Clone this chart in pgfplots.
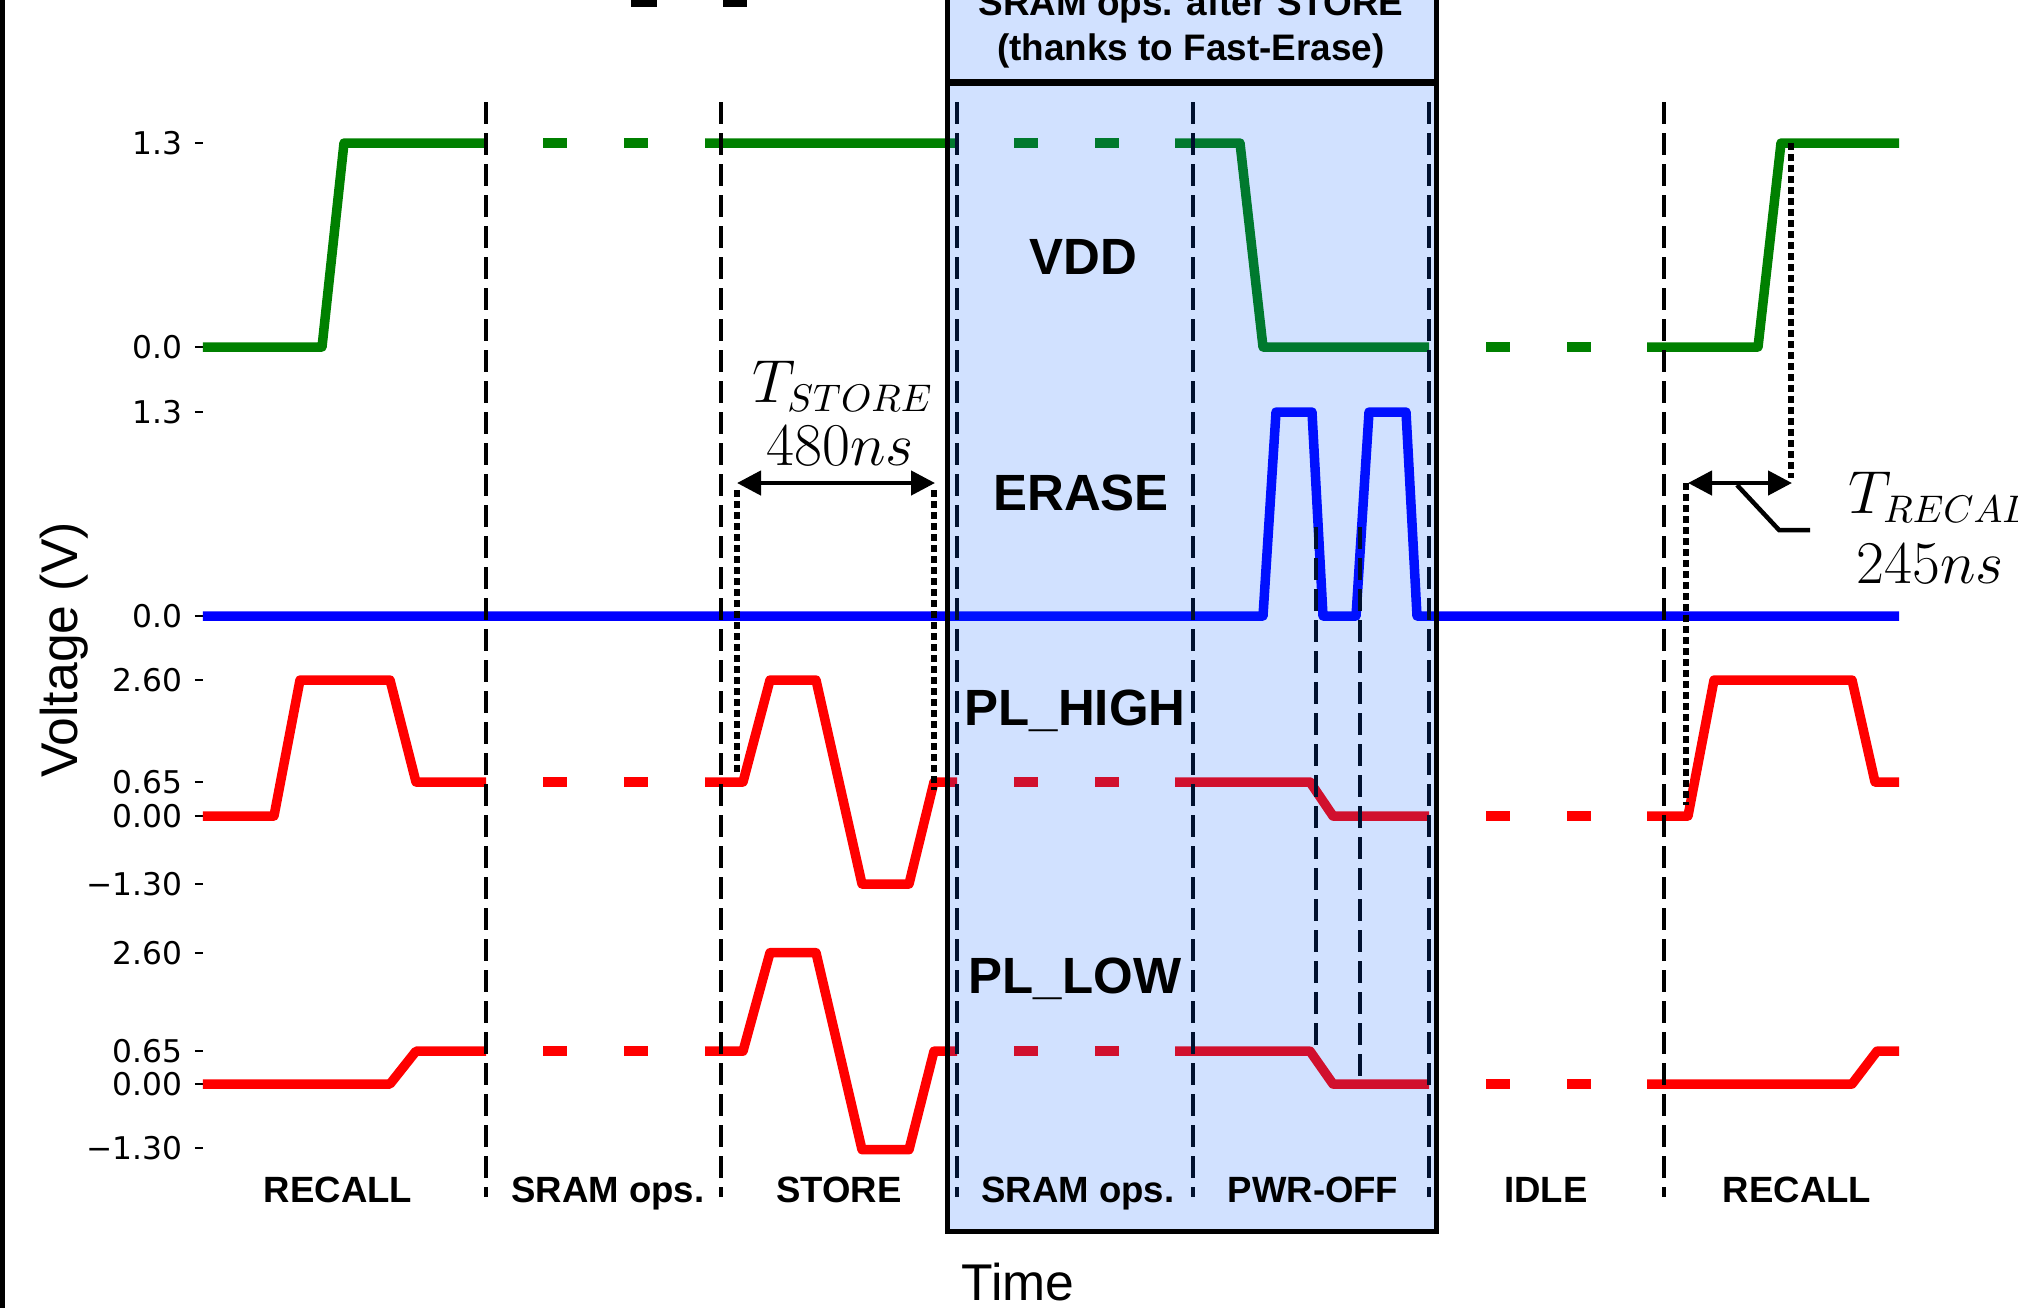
\documentclass[border=0pt]{standalone}
\usepackage{fontspec}
\setmainfont{Liberation Sans}
\newfontfamily\dejavu{DejaVu Sans}
\usepackage{pgfplots}
\pgfplotsset{compat=1.18}
\usepackage{pgfplotstable}
\usetikzlibrary{arrows.meta}

\definecolor{vddgreen}{RGB}{0,128,0}
\definecolor{plred}{RGB}{255,0,0}
\definecolor{erblue}{RGB}{0,0,255}
\definecolor{boxblue}{RGB}{0,90,255}

\tikzset{
  trace/.style={line width=0.95mm, line join=round, mark=none},
  gap/.style={line width=0.95mm, mark=none, dash pattern=on 2.4mm off 5.7mm, dash phase=2.4mm},
  vsep/.style={line width=0.35mm, black, dash pattern=on 2.2mm off 0.9mm},
  dots/.style={line width=0.65mm, black, dash pattern=on 0.65mm off 0.45mm},
  dim/.style={line width=0.45mm, black, {Triangle[length=2.4mm,width=2.4mm]}-{Triangle[length=2.4mm,width=2.4mm]}},
  big/.style={font=\bfseries\fontsize{14.5}{16}\selectfont, anchor=base},
  phase/.style={font=\bfseries\fontsize{10.4}{12}\selectfont, anchor=base},
}

% time in arbitrary units, v in volts; nan rows break a trace
\pgfplotstableread{
t v
203 0
322 0
344 1.3
486 1.3
nan 0
705 1.3
957 1.3
nan 0
1175 1.3
1240 1.3
1263 0
1429 0
nan 0
1647 0
1758 0
1781 1.3
1899 1.3
}\vddsolid

\pgfplotstableread{
t v
486 1.3
705 1.3
nan 0
957 1.3
1175 1.3
nan 0
1429 0
1647 0
}\vddgap

\pgfplotstableread{
t v
203 0
1263 0
1276 1.3
1312 1.3
1323 0
1356 0
1369 1.3
1406 1.3
1417 0
1899 0
}\erase

\pgfplotstableread{
t v
203 0
274 0
300 2.6
390 2.6
416 0.65
486 0.65
nan 0
705 0.65
743 0.65
770 2.6
816 2.6
862 -1.3
909 -1.3
934 0.65
957 0.65
nan 0
1175 0.65
1310 0.65
1333 0
1429 0
nan 0
1647 0
1688 0
1714 2.6
1852 2.6
1875 0.65
1899 0.65
}\plhigh

\pgfplotstableread{
t v
203 0
390 0
416 0.65
486 0.65
nan 0
705 0.65
743 0.65
770 2.6
816 2.6
862 -1.3
909 -1.3
934 0.65
957 0.65
nan 0
1175 0.65
1310 0.65
1333 0
1429 0
nan 0
1647 0
1852 0
1877 0.65
1899 0.65
}\pllow

\pgfplotstableread{
t v
486 0.65
705 0.65
nan 0
957 0.65
1175 0.65
nan 0
1429 0
1647 0
}\plgap

\begin{document}
\begin{tikzpicture}
\begin{axis}[
  scale only axis, width=169.6mm, height=130.7mm,
  xmin=203, xmax=1899, ymin=0, ymax=1307, y dir=reverse,
  clip=false, axis line style={draw=none},
  xtick=\empty, ytick pos=left, tick align=outside, major tick length=0.8mm,
  ytick={143,347,412,616,680,782,816,884,953,1051,1084,1148},
  yticklabels={1.3,0.0,1.3,0.0,2.60,0.65,0.00,−1.30,2.60,0.65,0.00,−1.30},
  yticklabel style={font=\dejavu\fontsize{8.9}{10}\selectfont},
  ytick style={line width=0.25mm, black},
  unbounded coords=jump,
]
% signals
\addplot[trace, vddgreen] table[x=t, y expr=347-156.9*\thisrow{v}] {\vddsolid};
\addplot[gap, vddgreen] table[x=t, y expr=347-156.9*\thisrow{v}] {\vddgap};
\addplot[trace, erblue] table[x=t, y expr=616-156.9*\thisrow{v}] {\erase};
\addplot[trace, plred] table[x=t, y expr=816-52.3*\thisrow{v}] {\plhigh};
\addplot[gap, plred] table[x=t, y expr=816-52.3*\thisrow{v}] {\plgap};
\addplot[trace, plred] table[x=t, y expr=1084-50.5*\thisrow{v}] {\pllow};
\addplot[gap, plred] table[x=t, y expr=1084-50.5*\thisrow{v}] {\plgap};

% phase separators
\draw[vsep] (486,102) -- (486,1197);
\draw[vsep] (721,102) -- (721,1197);
\draw[vsep] (957,102) -- (957,1197);
\draw[vsep] (1193,102) -- (1193,1197);
\draw[vsep] (1429,102) -- (1429,1197);
\draw[vsep] (1664,102) -- (1664,1197);
\draw[vsep] (1316,527) -- (1316,1050);
\draw[vsep] (1360,527) -- (1360,1085);

% timing markers
\draw[dots] (737,490) -- (737,775);
\draw[dots] (934,490) -- (934,790);
\draw[dots] (1686,483) -- (1686,805);
\draw[dots] (1791,143) -- (1791,478);
\draw[dim] (737,483) -- (935,483);
\draw[dim] (1688,483) -- (1792,483);
\draw[line width=0.45mm] (1737,485) -- (1779,530) -- (1810,530);

% highlighted box
\fill[boxblue, fill opacity=0.18] (947,-30) rectangle (1436,1231);
\draw[line width=0.5mm] (947,-30) rectangle (1436,1231);
\draw[line width=0.7mm] (947,82) -- (1436,82);

% texts
\node[font=\bfseries\fontsize{10.5}{12}\selectfont, anchor=base] at (1191,15) {SRAM ops. after STORE};
\node[font=\bfseries\fontsize{10.5}{12}\selectfont, anchor=base] at (1191,60) {(thanks to Fast-Erase)};
\node[big] at (1083,274) {VDD};
\node[big] at (1081,510) {ERASE};
\node[big] at (1075,725) {PL\_HIGH};
\node[big] at (1075,993) {PL\_LOW};
\node[phase] at (338,1202) {RECALL};
\node[phase] at (608,1202) {SRAM ops.};
\node[phase] at (839,1202) {STORE};
\node[phase] at (1078,1202) {SRAM ops.};
\node[phase] at (1313,1202) {PWR-OFF};
\node[phase] at (1546,1202) {IDLE};
\node[phase] at (1797,1202) {RECALL};
\node[anchor=base, font=\fontsize{16}{18}\selectfont] at (843,402) {$T_{STORE}$};
\node[anchor=base, font=\fontsize{16}{18}\selectfont] at (840,465) {$480ns$};
\node[anchor=base west, font=\fontsize{16}{18}\selectfont] at (1836,513) {$T_{RECALL}$};
\node[anchor=base, font=\fontsize{16}{18}\selectfont] at (1930,583) {$245ns$};
\node[anchor=base, font=\fontsize{14.7}{16}\selectfont] at (1018,1300) {Time};
\node[anchor=base, rotate=90, font=\fontsize{14.7}{16}\selectfont] at (78,650) {Voltage (V)};

% cropped frame remnants
\fill[black] (0,-5) rectangle (5,1312);
\fill[black] (631,-5) rectangle (657,7);
\fill[black] (723,-5) rectangle (747,7);

\coordinate (bl) at (0,1307);
\coordinate (tr) at (2018,0);
\end{axis}
\pgfresetboundingbox
\path[use as bounding box] (bl) rectangle (tr);
\end{tikzpicture}
\end{document}
